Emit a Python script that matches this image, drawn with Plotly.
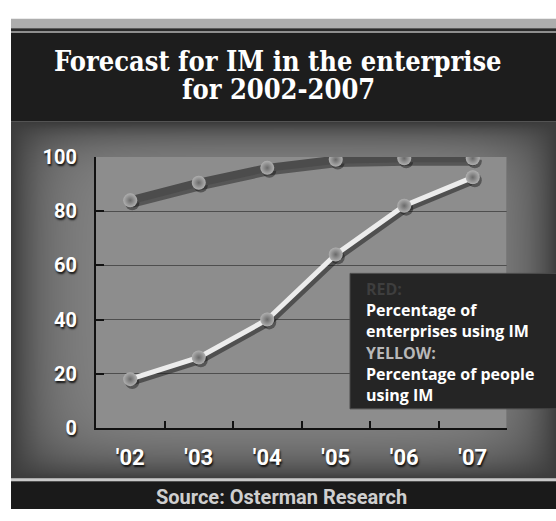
import numpy as np
import plotly.graph_objects as go

# ---- data -------------------------------------------------------------
years = ["'02", "'03", "'04", "'05", "'06", "'07"]
enterprises_pct = [84, 90.5, 96, 99, 99.5, 99.5]   # "RED" series
people_pct = [18, 26, 40, 64, 82, 92.5]             # "YELLOW" series
y_ticks = [0, 20, 40, 60, 80, 100]

W, H = 556, 521


def px(x):
    return x / W


def py(y):
    return 1 - y / H


# plot-area geometry (pixels)
PL, PR, PT, PB = 96, 507, 152, 436
PANEL_L, PANEL_T, PANEL_B = 11, 115, 489

fig = go.Figure()

# ---- vignetted grey backdrop (heatmap on its own hidden axes) ---------
nx, ny = 140, 100
gx = np.linspace(0, 1, nx)
gy = np.linspace(0, 1, ny)
panel_w = W - PANEL_L
panel_h = PANEL_B - PANEL_T
dx = np.minimum(gx * panel_w, (1 - gx) * panel_w)
dy_top = (1 - gy) * panel_h
dy_bot = gy * panel_h
fx = 1 - np.exp(-dx / 34.0)
fy = (1 - np.exp(-dy_top / 22.0)) * (1 - np.exp(-dy_bot / 26.0))
shade = 60 + 74 * np.outer(fy, fx)
fig.add_trace(go.Heatmap(
    x=gx, y=gy, z=shade, zmin=0, zmax=255, zsmooth="best",
    colorscale=[[0, "rgb(0,0,0)"], [1, "rgb(255,255,255)"]],
    showscale=False, hoverinfo="skip", xaxis="x", yaxis="y",
))


def line_set(xa, ya, shadow=False):
    if shadow:
        return [
            go.Scatter(x=years, y=enterprises_pct, mode="lines",
                       line=dict(color="rgba(20,20,20,0.45)", width=9),
                       xaxis=xa, yaxis=ya, hoverinfo="skip", showlegend=False),
            go.Scatter(x=years, y=people_pct, mode="lines",
                       line=dict(color="rgba(20,20,20,0.5)", width=7),
                       xaxis=xa, yaxis=ya, hoverinfo="skip", showlegend=False),
            go.Scatter(x=years + years, y=enterprises_pct + people_pct, mode="markers",
                       marker=dict(size=14, color="rgba(20,20,20,0.45)", line=dict(width=0)),
                       xaxis=xa, yaxis=ya, hoverinfo="skip", showlegend=False),
        ]
    ball = dict(size=14, color="#b0b0b0",
                gradient=dict(type="radial", color="#6a6a6a"),
                line=dict(width=0))
    return [
        go.Scatter(x=years, y=enterprises_pct, mode="lines",
                   line=dict(color="#4c4c4c", width=8),
                   xaxis=xa, yaxis=ya, name="Enterprises", showlegend=False),
        go.Scatter(x=years, y=people_pct, mode="lines",
                   line=dict(color="#ececec", width=5),
                   xaxis=xa, yaxis=ya, name="People", showlegend=False),
        go.Scatter(x=years, y=enterprises_pct, mode="markers", marker=ball,
                   xaxis=xa, yaxis=ya, showlegend=False),
        go.Scatter(x=years, y=people_pct, mode="markers", marker=ball,
                   xaxis=xa, yaxis=ya, showlegend=False),
    ]


# drop shadow drawn on axes nudged a few pixels right/down
for tr in line_set("x3", "y3", shadow=True):
    fig.add_trace(tr)
for tr in line_set("x4", "y4"):
    fig.add_trace(tr)

hidden = dict(visible=False, fixedrange=True)
cat_axis = dict(type="category", categoryorder="array", categoryarray=years,
                range=[-0.5, 5.5])
sx, sy = 2, 3  # shadow offset in pixels

fig.update_layout(
    width=W, height=H,
    margin=dict(l=0, r=0, t=0, b=0),
    paper_bgcolor="white",
    plot_bgcolor="rgba(0,0,0,0)",
    showlegend=False,
    xaxis=dict(domain=[px(PANEL_L), 1], range=[0, 1], **hidden),
    yaxis=dict(domain=[py(PANEL_B), py(PANEL_T)], range=[0, 1], anchor="x", **hidden),
    # gridlines + plot fill
    xaxis2=dict(domain=[px(PL), px(PR)], anchor="y2", showgrid=False, showticklabels=False,
                showline=False, zeroline=False, ticks="", **cat_axis),
    yaxis2=dict(domain=[py(PB), py(PT)], anchor="x2", range=[0, 100], tickvals=y_ticks,
                showgrid=True, gridcolor="#4e4e4e", gridwidth=1, zeroline=False,
                showticklabels=False, ticks="", showline=False),
    # shadow axes
    xaxis3=dict(domain=[px(PL + sx), px(PR + sx)], anchor="y3", **cat_axis, **hidden),
    yaxis3=dict(domain=[py(PB + sy), py(PT + sy)], anchor="x3", range=[0, 100], **hidden),
    # visible data axes
    xaxis4=dict(domain=[px(PL), px(PR)], anchor="y4", showgrid=False, zeroline=False,
                showline=True, linecolor="#111111", linewidth=2,
                ticks="inside", ticklen=7, tickwidth=2, tickcolor="#111111",
                tickson="boundaries", ticklabelstandoff=9,
                tickfont=dict(family="Roboto", size=22, color="white", weight="bold",
                              shadow="1px 2px 2px rgba(0,0,0,0.85)"),
                **cat_axis),
    yaxis4=dict(domain=[py(PB), py(PT)], anchor="x4", range=[0, 100], tickvals=y_ticks,
                showgrid=False, zeroline=False, showline=True, linecolor="#111111",
                linewidth=2, ticks="inside", ticklen=8, tickwidth=2, tickcolor="#111111",
                ticklabelstandoff=13,
                tickfont=dict(family="Roboto", size=20, color="white", weight="bold",
                              shadow="1px 2px 2px rgba(0,0,0,0.85)")),
)

shapes = [
    # header stripes
    dict(type="rect", xref="paper", yref="paper", x0=px(PANEL_L), x1=1, y0=py(17), y1=py(7),
         fillcolor="#adadad", line_width=0, layer="below"),
    dict(type="rect", xref="paper", yref="paper", x0=px(PANEL_L), x1=1, y0=py(20), y1=py(17),
         fillcolor="#2a2a2a", line_width=0, layer="below"),
    dict(type="rect", xref="paper", yref="paper", x0=px(PANEL_L), x1=1, y0=py(22), y1=py(20),
         fillcolor="#8e8e8e", line_width=0, layer="below"),
    dict(type="rect", xref="paper", yref="paper", x0=px(PANEL_L), x1=1, y0=py(PANEL_T), y1=py(22),
         fillcolor="#1d1d1d", line_width=0, layer="below"),
    # footer stripes
    dict(type="rect", xref="paper", yref="paper", x0=px(PANEL_L), x1=1, y0=py(492), y1=py(PANEL_B),
         fillcolor="#c9c9c9", line_width=0, layer="below"),
    dict(type="rect", xref="paper", yref="paper", x0=px(PANEL_L), x1=1, y0=0, y1=py(492),
         fillcolor="#1a1a1a", line_width=0, layer="below"),
    # plot-area fill
    dict(type="rect", xref="x2", yref="y2", x0=-0.5, x1=5.5, y0=0, y1=100,
         fillcolor="#8d8d8d", line_width=0, layer="below"),
    # faint right border
    dict(type="line", xref="x4", yref="y4", x0=5.5, x1=5.5, y0=0, y1=100,
         line=dict(color="#666666", width=1), layer="above"),
    # key box
    dict(type="rect", xref="paper", yref="paper", x0=px(350), x1=px(W + 5), y0=py(416), y1=py(274),
         fillcolor="#252525", line=dict(color="#4a4a4a", width=1), layer="above"),
]
fig.update_layout(shapes=shapes)

title_font = dict(family="DejaVu Serif Condensed, DejaVu Serif", size=27, color="white",
                  weight="bold")
key_font = dict(family="Open Sans", size=16, color="white", weight="bold")

annotations = [
    dict(text="Forecast for IM in the enterprise", x=px(278), y=py(52), font=title_font),
    dict(text="for 2002-2007", x=px(278), y=py(81), font=title_font),
    dict(text="Source: Osterman Research", x=px(281), y=py(508),
         font=dict(family="Roboto", size=20, color="#cfcfcf", weight="bold")),
    dict(text="RED:", x=px(364), y=py(290), xanchor="left",
         font=dict(family="Open Sans", size=16, color="#3e3e3e", weight="bold")),
    dict(text="Percentage of<br>enterprises using IM", x=px(364), y=py(323),
         xanchor="left", align="left", font=key_font),
    dict(text="YELLOW:", x=px(364), y=py(357), xanchor="left",
         font=dict(family="Open Sans", size=16, color="#b8b8b8", weight="bold")),
    dict(text="Percentage of people<br>using IM", x=px(364), y=py(390),
         xanchor="left", align="left", font=key_font),
]
for a in annotations:
    a.setdefault("xanchor", "center")
    a.update(xref="paper", yref="paper", yanchor="middle", showarrow=False)
fig.update_layout(annotations=annotations)

fig.write_html("out.html")
